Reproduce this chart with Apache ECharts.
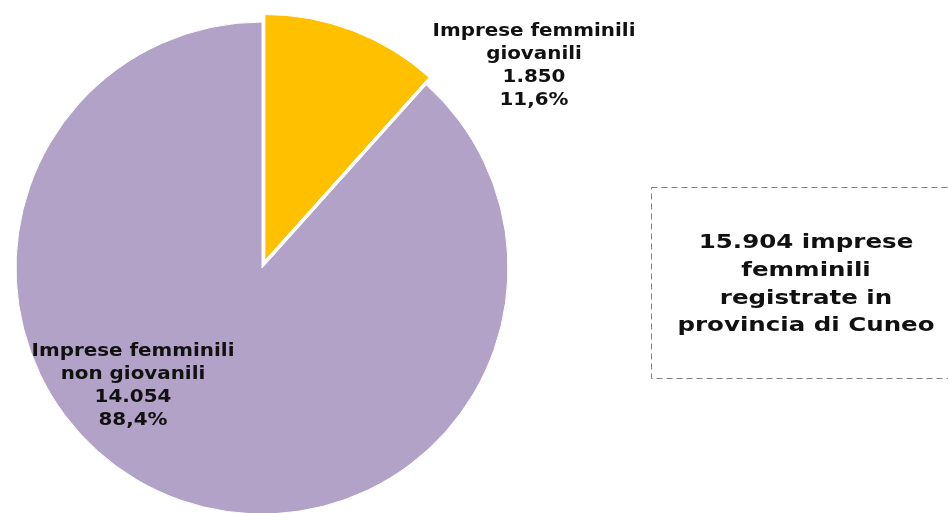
<!DOCTYPE html>
<html>
<head>
<meta charset="utf-8">
<script src="https://cdn.jsdelivr.net/npm/echarts@6/dist/echarts.min.js"></script>
<style>
  html, body { margin: 0; padding: 0; background: #fff; }
  #chart { width: 948px; height: 513px; }
</style>
</head>
<body>
<div id="chart"></div>
<script>
// dati imprese femminili - provincia di Cuneo
const categories = ['Imprese femminili\ngiovanili', 'Imprese femminili\nnon giovanili'];
const values = [1850, 14054];
const colors = ['#FFC000', '#B3A2C7'];
const boxText = '15.904 imprese\nfemminili\nregistrate in\nprovincia di Cuneo';

const total = values.reduce((a, b) => a + b, 0);

// formato italiano: 14.054 e 88,4%
function fmtNum(v) {
  return String(v).replace(/\B(?=(\d{3})+(?!\d))/g, '.');
}
function fmtPct(v) {
  return (v / total * 100).toFixed(1).replace('.', ',') + '%';
}

const chart = echarts.init(document.getElementById('chart'));

// centro dei blocchi di testo delle etichette
const labelPos = [[534, 66], [133, 386]];

const labelTexts = categories.map((c, i) => ({
  type: 'text',
  x: labelPos[i][0],
  y: labelPos[i][1],
  scaleX: 1.17,
  z: 10,
  style: {
    text: c + '\n' + fmtNum(values[i]) + '\n' + fmtPct(values[i]),
    fontFamily: 'DejaVu Sans',
    fontWeight: 'bold',
    fontSize: 17,
    lineHeight: 23,
    fill: '#111',
    align: 'center',
    verticalAlign: 'middle'
  }
}));

const option = {
  animation: false,
  series: [{
    type: 'pie',
    center: [262, 268],
    radius: 246,
    startAngle: 90,
    clockwise: true,
    selectedMode: 'single',
    selectedOffset: 8,
    itemStyle: {
      borderColor: '#fff',
      borderWidth: 1
    },
    label: { show: false },
    labelLine: { show: false },
    emphasis: { disabled: true },
    data: categories.map((c, i) => ({
      name: c,
      value: values[i],
      selected: i === 0,
      itemStyle: { color: colors[i] }
    }))
  }],
  graphic: labelTexts.concat([
    {
      type: 'rect',
      shape: { x: 651.5, y: 187.5, width: 300, height: 191 },
      style: {
        fill: 'none',
        stroke: '#808080',
        lineWidth: 1,
        lineDash: [6, 4]
      }
    },
    {
      type: 'text',
      x: 806,
      y: 285,
      scaleX: 1.29,
      style: {
        text: boxText,
        fontFamily: 'DejaVu Sans',
        fontWeight: 'bold',
        fontSize: 19,
        lineHeight: 27.7,
        fill: '#111',
        align: 'center',
        verticalAlign: 'middle'
      }
    }
  ])
};

chart.setOption(option);
</script>
</body>
</html>
